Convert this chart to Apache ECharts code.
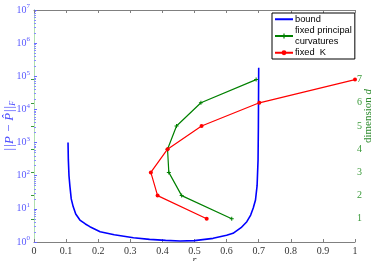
<!DOCTYPE html>
<html>
<head>
<meta charset="utf-8">
<script src="https://cdn.jsdelivr.net/npm/echarts@6/dist/echarts.min.js"></script>
<style>html,body{margin:0;padding:0;background:#fff;}#c{width:374px;height:261px;}</style>
</head>
<body>
<div id="c"></div>
<script>
// r values for the bound curve and its values ||P - P^||_F
const boundR = [0.106, 0.107, 0.109, 0.112, 0.116, 0.122, 0.13, 0.143, 0.16, 0.174, 0.206, 0.25, 0.31, 0.36, 0.41, 0.455, 0.5, 0.558, 0.6, 0.62, 0.645, 0.663, 0.675, 0.683, 0.69, 0.695, 0.698, 0.699, 0.7];
const boundV = [1000, 300, 100, 47, 20, 11.7, 7, 4.6, 3.5, 2.9, 2.05, 1.65, 1.35, 1.2, 1.12, 1.07, 1.1, 1.29, 1.6, 1.83, 2.7, 4.1, 6.5, 10.6, 18.5, 50, 300, 3000, 180000];
// dimension d
const dims = [1, 2, 3, 4, 5, 6, 7];
const principalR = [0.616, 0.46, 0.42, 0.416, 0.444, 0.52, 0.692];
const fixedKR = [0.538, 0.385, 0.364, 0.416, 0.522, 0.702, 1.0];
const xTicks = [0, 0.1, 0.2, 0.3, 0.4, 0.5, 0.6, 0.7, 0.8, 0.9, 1];
const dTicks = [1, 2, 3, 4, 5, 6, 7];

const chart = echarts.init(document.getElementById('c'), null, {renderer: 'canvas'});
const serif = 'Liberation Serif';
const sans = 'Liberation Sans';
const plus = 'path://M-1,-4H1V-1H4V1H1V4H-1V1H-4V-1H-1Z';

chart.setOption({
  animation: false,
  backgroundColor: '#fff',
  grid: {left: 34, right: 19, top: 10, bottom: 19, containLabel: false, outerBoundsMode: 'none'},
  legend: {
    orient: 'vertical',
    left: 272, top: 13,
    padding: [1, 3, 1, 2],
    itemGap: 1,
    itemWidth: 18, itemHeight: 6,
    borderColor: '#000', borderWidth: 1, borderRadius: 0,
    backgroundColor: '#fff',
    data: [{name: 'bound', itemStyle: {opacity: 0}}, 'fixed principal curvatures', 'fixed  K'],
    formatter: function (n) { return n === 'fixed principal curvatures' ? 'fixed principal\ncurvatures' : n; },
    textStyle: {fontFamily: sans, fontSize: 9.3, lineHeight: 10.5, color: '#000', padding: [0, 0, 0, -3]}
  },
  xAxis: [{
    type: 'value', min: 0, max: 1, interval: 0.1,
    name: 'r', nameLocation: 'middle', nameGap: 13, nameMoveOverlap: false,
    nameTextStyle: {fontFamily: serif, fontStyle: 'italic', fontSize: 10, color: '#333'},
    axisLine: {lineStyle: {color: '#808080', width: 1}},
    axisTick: {inside: true, length: 3, lineStyle: {color: '#808080'}},
    axisLabel: {margin: 4, fontFamily: serif, fontSize: 10, color: '#333',
      customValues: xTicks, formatter: function (v) { return String(+v.toFixed(1)); }},
    splitLine: {show: false}
  }, {
    type: 'value', min: 0, max: 1, interval: 0.1, position: 'top',
    axisLine: {onZero: false, lineStyle: {color: '#808080', width: 1}},
    axisTick: {inside: true, length: 3, lineStyle: {color: '#808080'}},
    axisLabel: {show: false},
    splitLine: {show: false}
  }],
  yAxis: [{
    type: 'log', logBase: 10, min: 1, max: 1e7,
    name: '{n|||P − P̂||}{s|F}', nameLocation: 'middle', nameRotate: 90, nameGap: 17, nameMoveOverlap: false,
    nameTextStyle: {
      rich: {
        n: {fontFamily: serif, fontStyle: 'italic', fontSize: 13, color: '#4a4aff'},
        s: {fontFamily: serif, fontStyle: 'italic', fontSize: 8, color: '#4a4aff', padding: [6, 0, 0, 0]}
      }
    },
    axisLine: {lineStyle: {color: '#9a9aff', width: 1}},
    axisTick: {inside: true, length: 3, lineStyle: {color: '#6a6aff'}},
    minorTick: {show: true, splitNumber: 9, length: 2, lineStyle: {color: '#8a8aff'}},
    axisLabel: {margin: 4, color: '#5a5aff',
      formatter: function (v) { return '{b|10}{s|' + Math.round(Math.log10(v)) + '}'; },
      rich: {
        b: {fontFamily: serif, fontSize: 10, color: '#5a5aff'},
        s: {fontFamily: serif, fontSize: 7, color: '#5a5aff', padding: [0, 0, 7, 0]}
      }
    },
    splitLine: {show: false}
  }, {
    type: 'value', min: 0, max: 10, position: 'right',
    name: '{n|dimension }{i|d}', nameLocation: 'middle', nameRotate: 90, nameGap: 8, nameMoveOverlap: false,
    nameTextStyle: {
      padding: [0, 0, 0, 20],
      rich: {
        n: {fontFamily: serif, fontSize: 11, color: '#2e8b2e'},
        i: {fontFamily: serif, fontStyle: 'italic', fontSize: 11, color: '#2e8b2e'}
      }
    },
    axisLine: {show: true, lineStyle: {color: '#b0e0b0', width: 1}},
    axisTick: {inside: true, length: 3, customValues: dTicks, lineStyle: {color: '#3a9a3a'}},
    axisLabel: {margin: 2, customValues: dTicks, fontFamily: serif, fontSize: 10, color: '#3a9a3a'},
    splitLine: {show: false}
  }],
  series: [{
    name: 'bound', type: 'line', xAxisIndex: 0, yAxisIndex: 0,
    symbol: 'none',
    data: boundR.map((r, i) => [r, boundV[i]]),
    lineStyle: {color: '#0000ff', width: 1.6},
    itemStyle: {color: '#0000ff'}
  }, {
    name: 'fixed principal curvatures', type: 'line', xAxisIndex: 0, yAxisIndex: 1,
    symbol: plus, symbolSize: 4,
    data: principalR.map((r, i) => [r, dims[i]]),
    lineStyle: {color: '#008000', width: 1.2},
    itemStyle: {color: '#008000'}
  }, {
    name: 'fixed  K', type: 'line', xAxisIndex: 0, yAxisIndex: 1,
    symbol: 'circle', symbolSize: 4,
    data: fixedKR.map((r, i) => [r, dims[i]]),
    lineStyle: {color: '#ff0000', width: 1.2},
    itemStyle: {color: '#ff0000'}
  }]
});
</script>
</body>
</html>
